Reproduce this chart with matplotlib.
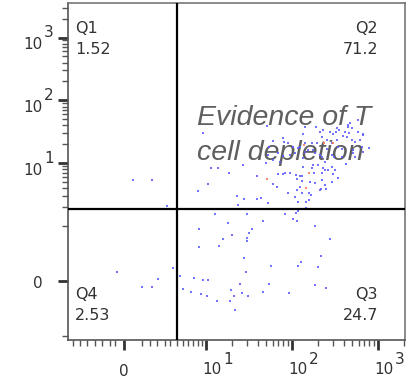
import numpy as np
import matplotlib
matplotlib.use("Agg")
import matplotlib.pyplot as plt

# biexponential-like display (arcsinh) widths for each channel
X_COF = 2.25
Y_COF = 0.27

# gate positions
x_gate = 4.4
y_gate = 1.88

quad_names = ["Q1", "Q2", "Q3", "Q4"]
quad_pcts = ["1.52", "71.2", "24.7", "2.53"]

# events (blue)
ev_x = [0.55, 1.85, 3.2,
        -0.42, 1.13, 1.85, 2.34, 3.9,
        4.8, 7.2, 5.2, 6.6, 8.2, 8.2, 12.7, 30, 83, 18, 46, 103, 114, 185,
        34, 32, 20, 15.8, 30, 30, 14.2, 276, 27.6, 57, 127, 117, 217, 200,
        29, 10.5, 25, 54, 19.5, 10.3, 21, 26, 31, 46, 92, 185, 248, 13.4,
        19, 21.7, 117, 111, 9.2, 8.7,
        9.2, 51, 60, 69, 79, 81, 54, 53, 60, 73, 134, 190, 229, 299, 324,
        352, 446, 470, 585, 667, 458, 391, 497, 539, 616, 90, 103, 124, 141,
        171, 195, 291, 343, 381, 255, 175, 510, 667, 785, 79, 95, 108, 134,
        211, 307, 539, 26.9, 18.5, 13.8, 11.4, 10.5, 50, 39, 69, 60, 67,
        8.0, 22.9, 27.6, 23.5, 39, 43.6, 53, 79, 95, 111, 124, 130, 114,
        130, 180, 134, 175, 229, 242, 291, 299, 343, 424, 90, 108, 130, 157,
        166, 217, 248, 117, 145, 145, 157, 114, 211,
        141, 211, 276, 333, 446, 497, 585, 667, 435, 333, 255, 153, 185, 223,
        291, 381, 510, 242, 200, 171, 223, 262, 315, 185, 223, 242, 291, 83,
        124, 162, 117, 141, 649, 413, 223]
ev_y = [5.5, 5.5, 2.1,
        0.091, -0.060, -0.060, 0.020, 0.133,
        0.050, 0.030, -0.080, -0.112, 0.89, 0.43, 1.56, 1.56, 1.56, 1.12,
        1.20, 1.29, 1.20, 0.99, 0.89, 0.76, 0.70, 0.60, 0.62, 0.55, 0.45,
        0.60, 0.26, 0.156, 0.20, 0.156, 0.28, 0.145, 0.091, 0.010, -0.030,
        -0.030, -0.091, -0.156, -0.156, -0.123, -0.156, -0.112, -0.123,
        -0.040, -0.070, -0.216, -0.216, -0.35, 1.74, 1.62, 0.010, -0.133,
        30.5, 39, 22.7, 14.7, 25.4, 21.9, 18.3, 13.6, 11.3, 10.5, 29.4, 38,
        34, 29.4, 32, 34, 38, 44, 49, 29.4, 30.5, 27.3, 23.6, 21.9, 23.6,
        21.2, 18.3, 18.3, 21.2, 21.2, 21.2, 21.2, 18.3, 17.0, 17.0, 16.4,
        16.4, 15.2, 17.6, 13.1, 13.6, 14.7, 12.2, 13.6, 12.7, 12.7, 9.4,
        7.0, 8.5, 8.5, 4.7, 10.2, 6.3, 6.8, 4.7, 4.2, 3.6, 3.0, 2.7, 2.2,
        2.7, 2.8, 2.3, 6.8, 7.0, 6.6, 6.3, 6.3, 5.6, 5.3, 7.0, 8.8, 9.4,
        8.5, 7.9, 8.8, 6.8, 5.9, 9.8, 3.4, 2.9, 3.4, 3.4, 3.1, 3.9, 3.9,
        2.4, 2.4, 1.95, 2.6, 3.8, 3.8,
        38, 32, 32, 37, 41, 37, 32, 28, 26, 23.6, 23.6, 16.4, 14.7, 12.7,
        13.6, 12.7, 14.7, 10.5, 9.4, 8.5, 7.0, 7.9, 7.9, 4.9, 5.5, 4.5, 5.1,
        7.0, 4.2, 5.1, 17.6, 15.2, 18.3, 32, 26.3]

# highlighted events (red)
hi_x = [137, 235, 299, 51, 157, 145]
hi_y = [19.7, 21.2, 21.2, 5.6, 7.0, 4.1]

x_major = [0, 10, 100, 1000]
y_major = [0, 10, 100, 1000]
x_minor = [-4.1, -3.3, -2.6, -1.9, -1.4, -0.86, -0.55,
           1.1, 1.7, 2.25, 3, 3.5, 4.4, 5.2, 6, 7, 8, 9,
           20, 30, 40, 50, 60, 70, 80, 90,
           200, 300, 400, 500, 600, 700, 800, 900, 2000]
y_minor = [-1, 1, 2, 3, 4, 5, 6, 7, 8, 9,
           20, 30, 40, 50, 60, 70, 80, 90,
           200, 300, 400, 500, 600, 700, 800, 900, 2000, 3000]


def fwd(c):
    return lambda v: np.arcsinh(np.asarray(v) / c)


def inv(c):
    return lambda u: c * np.sinh(np.asarray(u))


fig = plt.figure(figsize=(4.1, 3.83), dpi=100)
ax = fig.add_axes([68 / 410, 43 / 383, 337 / 410, 337 / 383])
ax.set_xscale("function", functions=(fwd(X_COF), inv(X_COF)))
ax.set_yscale("function", functions=(fwd(Y_COF), inv(Y_COF)))
ax.set_xlim(-4.8, 2070)
ax.set_ylim(-1.16, 3540)

ax.text(0.383, 0.696, "Evidence of T\ncell depletion", transform=ax.transAxes,
        ha="left", va="top", fontsize=20.5, style="italic",
        family="Liberation Sans", color="#5f5f5f", linespacing=1.45, zorder=1)

ax.scatter(ev_x, ev_y, s=3.5, marker="s", color="#5a5aff", alpha=0.85,
           linewidths=0, zorder=2)
ax.scatter(hi_x, hi_y, s=3.5, marker="s", color="#ff7755", alpha=0.85,
           linewidths=0, zorder=2)

ax.axvline(x_gate, color="black", lw=1.6, zorder=3)
ax.axhline(y_gate, color="black", lw=1.6, zorder=3)

for s in ax.spines.values():
    s.set_color("#777777")
    s.set_linewidth(1.2)
ax.spines["left"].set_color("#555555")
ax.spines["bottom"].set_color("#555555")

ax.set_xticks(x_major)
ax.set_yticks(y_major)
ax.set_xticks(x_minor, minor=True)
ax.set_yticks(y_minor, minor=True)
ax.set_xticklabels([])
ax.set_yticklabels([])
ax.tick_params(which="major", length=7, width=2, color="#333333")
ax.tick_params(which="minor", length=4, width=1, color="#555555")

tk = dict(fontsize=11, color="#333333", family="DejaVu Sans")
# y tick labels
ax.annotate("0", xy=(0, 0), xycoords=("axes fraction", "data"),
            xytext=(-25, -3), textcoords="offset pixels", ha="right", va="center", **tk)
for v, e in zip(y_major[1:], ["1", "2", "3"]):
    ax.annotate("10", xy=(0, v), xycoords=("axes fraction", "data"),
                xytext=(-25, -7), textcoords="offset pixels", ha="right", va="center", **tk)
    ax.annotate(e, xy=(0, v), xycoords=("axes fraction", "data"),
                xytext=(-24, 5), textcoords="offset pixels", ha="left", va="center", **tk)
# x tick labels
ax.annotate("0", xy=(0, 0), xycoords=("data", "axes fraction"),
            xytext=(0, -32), textcoords="offset pixels", ha="center", va="center", **tk)
for v, e in zip(x_major[1:], ["1", "2", "3"]):
    ax.annotate("10", xy=(v, 0), xycoords=("data", "axes fraction"),
                xytext=(6, -30), textcoords="offset pixels", ha="center", va="center", **tk)
    ax.annotate(e, xy=(v, 0), xycoords=("data", "axes fraction"),
                xytext=(17, -19), textcoords="offset pixels", ha="left", va="center", **tk)

q = dict(fontsize=11.5, color="#333333", family="DejaVu Sans", transform=ax.transAxes,
         linespacing=1.5)
ax.text(0.021, 0.946, quad_names[0] + "\n" + quad_pcts[0], ha="left", va="top", **q)
ax.text(0.920, 0.946, quad_names[1] + "\n" + quad_pcts[1], ha="right", va="top", **q)
ax.text(0.920, 0.05, quad_names[2] + "\n" + quad_pcts[2], ha="right", va="bottom", **q)
ax.text(0.021, 0.05, quad_names[3] + "\n" + quad_pcts[3], ha="left", va="bottom", **q)

fig.savefig("out.png", dpi=100)
